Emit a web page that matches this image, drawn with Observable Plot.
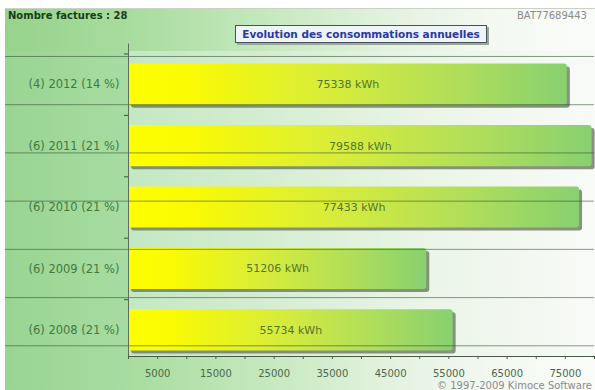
<!DOCTYPE html>
<html>
<head>
<meta charset="utf-8">
<script src="https://cdn.jsdelivr.net/npm/d3@7"></script>
<script src="https://cdn.jsdelivr.net/npm/@observablehq/plot@0.6"></script>
<style>
  body { margin: 0; background: #fff; }
  #wrap { position: relative; width: 595px; height: 390px; overflow: hidden; background: #fff; font-family: "DejaVu Sans", sans-serif; }
  #panel { position: absolute; left: 5px; top: 8px; right: 0; bottom: 0; border-top: 1px solid #c9d2c5;
    background: linear-gradient(to right, #96d38c 0%, #a9dc9f 22%, #c6e9bf 45%, #e3f2df 65%, #f3f8f1 82%, #fafcf9 100%); }
  #labelcol { position: absolute; left: 5px; top: 51px; width: 123px; bottom: 0;
    background: linear-gradient(to right, #99d592, #a7dca2); }
  #plotbg { position: absolute; left: 128px; top: 51px; right: 0; height: 305px;
    background: linear-gradient(to right, #c3e8c3 0%, #d5edd2 30%, #e8f4e5 60%, #f3f8f1 85%, #f8faf7 100%); }
  #count { position: absolute; left: 8px; top: 10px; font-weight: bold; font-size: 10px; color: #1c3b1c; white-space: nowrap; }
  #ref { position: absolute; left: 517px; top: 10px; font-size: 10px; color: #8a8a8a; white-space: nowrap; }
  #title { position: absolute; left: 235px; top: 25px; width: 252px; height: 18px; box-sizing: border-box;
    border: 1px solid #47525c; background: #eef4f8; box-shadow: 2px 2px 0 #9aa89a;
    font-weight: bold; font-size: 10.5px; color: #2a3a9c; text-align: center; line-height: 16px; white-space: nowrap; }
  #copy { position: absolute; left: 437px; top: 380px; font-size: 10px; color: #8c8c8c; white-space: nowrap; }
  #chart { position: absolute; left: 0; top: 0; }
</style>
</head>
<body>
<div id="wrap">
  <div id="panel"></div>
  <div id="labelcol"></div>
  <div id="plotbg"></div>
  <div id="chart"></div>
  <div id="count"></div>
  <div id="ref"></div>
  <div id="title"></div>
  <div id="copy"></div>
</div>
<script>
// ---- data ----
const years = ["2012", "2011", "2010", "2009", "2008"];
const invoiceCounts = [4, 6, 6, 6, 6];
const shares = [14, 21, 21, 21, 21];
const consumption = [75338, 79588, 77433, 51206, 55734];
const xTickLabels = [5000, 15000, 25000, 35000, 45000, 55000, 65000, 75000];
const invoiceTotal = 28;
const reference = "BAT77689443";
const chartTitle = "Evolution des consommations annuelles";
const copyright = "© 1997-2009 Kimoce Software";

// ---- layout ----
const W = 595, H = 390;
const mTop = 51, mBottom = 34, mLeft = 128, mRight = 1;
const xMax = 80000, xMinorStep = 5000;
const yMax = 4.965, rowOffset = 0.54, barHalf = 0.335;
const gridStart = 0.081, gridStep = 0.785, gridCount = 7;
const gridLeftPx = 5;
const gridX1 = (gridLeftPx - mLeft) / (W - mLeft - mRight) * xMax;

const rows = years.map((yr, i) => ({
  i,
  label: `(${invoiceCounts[i]}) ${yr} (${shares[i]} %)`,
  value: consumption[i],
  yc: i + rowOffset,
  y1: i + rowOffset - barHalf,
  y2: i + rowOffset + barHalf
}));
const gridLines = d3.range(gridCount).map(k => gridStart + k * gridStep);
const boundaries = d3.range(years.length).map(i => i + rowOffset - 0.5);

document.getElementById("count").textContent = `Nombre factures : ${invoiceTotal}`;
document.getElementById("ref").textContent = reference;
document.getElementById("title").textContent = chartTitle;
document.getElementById("copy").textContent = copyright;

const defs = () => {
  const d = d3.create("svg:defs");
  const g = d.append("linearGradient").attr("id", "barGrad")
    .attr("x1", "0").attr("x2", "1").attr("y1", "0").attr("y2", "0");
  [[0, "#ffff00"], [0.14, "#fafa04"], [0.45, "#d8ed3a"], [0.75, "#b0de5a"], [1, "#88d070"]]
    .forEach(([o, c]) => g.append("stop").attr("offset", o).attr("stop-color", c));
  return d.node();
};

const chart = Plot.plot({
  width: W, height: H,
  marginTop: mTop, marginBottom: mBottom, marginLeft: mLeft, marginRight: mRight,
  style: { background: "transparent", fontFamily: "DejaVu Sans, sans-serif" },
  x: { domain: [0, xMax], label: null },
  y: { domain: [0, yMax], reverse: true, label: null },
  marks: [
    defs,
    Plot.rect(rows, { x1: 0, x2: "value", y1: "y1", y2: "y2", fill: "#6b7960", fillOpacity: 0.8, dx: 3, dy: 3, rx: 3 }),
    Plot.rect(rows, { x1: 0, x2: "value", y1: "y1", y2: "y2", fill: "url(#barGrad)", rx: 3 }),
    Plot.text(rows, { x: d => d.value / 2, y: "yc", text: d => `${d.value} kWh`, fill: "#55742a", fontSize: 11 }),
    Plot.ruleY(gridLines, { y: d => d, x1: gridX1, x2: xMax, stroke: "#2c4a2c", strokeOpacity: 0.55 }),
    Plot.ruleY([yMax], { x1: 0, x2: xMax, stroke: "#4a5a4a", strokeWidth: 1.2 }),
    Plot.ruleX([0], { y1: -0.12, y2: yMax, stroke: "#5a6e5a" }),
    Plot.axisX({ ticks: d3.range(0, xMax + 1, xMinorStep), tickSize: 3, tickFormat: () => "", stroke: "#4a5a4a", label: null }),
    Plot.axisX({ ticks: xTickLabels, tickSize: 0, tickPadding: 13, tickFormat: d3.format("d"), fontSize: 10, fill: "#4b684b", label: null }),
    Plot.axisY({ ticks: boundaries, tickSize: 4, tickFormat: () => "", stroke: "#2f5a2f", label: null }),
    Plot.axisY({ ticks: rows.map(d => d.yc), tickSize: 0, tickPadding: 9, fontSize: 11.5, fill: "#3f7a3f", label: null,
      tickFormat: v => rows[Math.round(v - rowOffset)].label })
  ]
});
document.getElementById("chart").appendChild(chart);
</script>
</body>
</html>
